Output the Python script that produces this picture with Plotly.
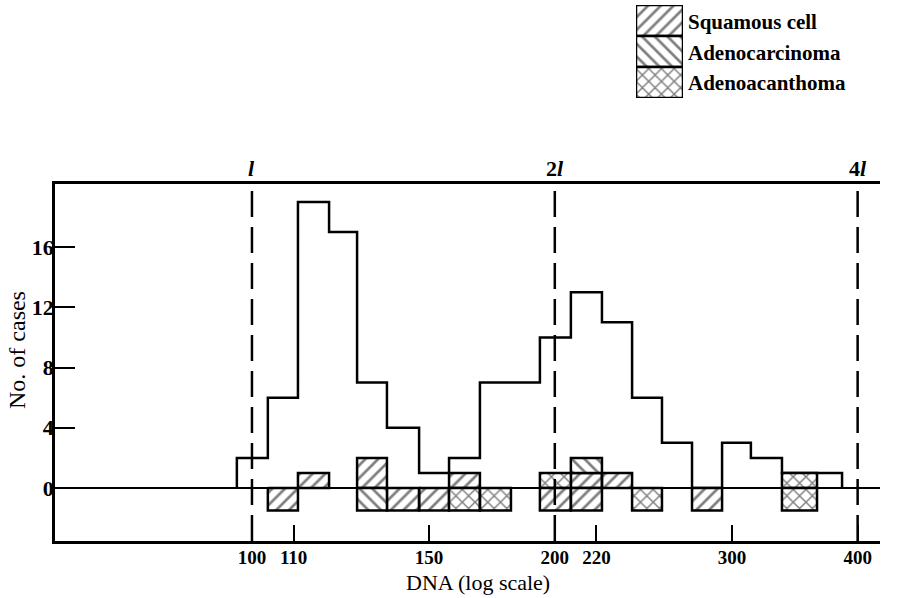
import numpy as np
import plotly.graph_objects as go

# ---------------- data ----------------
bin_edges = [96.6, 103.7, 111.1, 119.3, 127.2, 136.2, 146.6, 157.0, 168.5, 180.9, 193.3,
             207.5, 222.8, 238.7, 255.6, 273.8, 293.3, 313.3, 336.4, 364.5, 386.0]
total_cases = [2, 6, 19, 17, 7, 4, 1, 2, 7, 7, 10, 13, 11, 6, 3, 0, 3, 2, 1, 1]

squamous_above       = [0, 0, 1, 0, 2, 0, 0, 1, 0, 0, 0, 1, 1, 0, 0, 0, 0, 0, 0, 0]
adenocarcinoma_above = [0, 0, 0, 0, 0, 0, 0, 0, 0, 0, 0, 1, 0, 0, 0, 0, 0, 0, 0, 0]
adenoacanthoma_above = [0, 0, 0, 0, 0, 0, 0, 0, 0, 0, 1, 0, 0, 0, 0, 0, 0, 0, 1, 0]

squamous_below       = [0, 1, 0, 0, 0, 1, 1, 0, 0, 0, 1, 1, 0, 0, 0, 1, 0, 0, 0, 0]
adenocarcinoma_below = [0, 0, 0, 0, 1, 0, 0, 0, 0, 0, 0, 0, 0, 0, 0, 0, 0, 0, 0, 0]
adenoacanthoma_below = [0, 0, 0, 0, 0, 0, 0, 1, 1, 0, 0, 0, 0, 1, 0, 0, 0, 0, 1, 0]

series_names = ["Squamous cell", "Adenocarcinoma", "Adenoacanthoma"]
x_tick_values = [100, 110, 150, 200, 220, 300, 400]
y_tick_values = [0, 4, 8, 12, 16]
ploidy_values = [100, 200, 400]
ploidy_labels = ["l", "2l", "4l"]

# ---------------- styling constants ----------------
W, H = 899, 598
BELOW_DEPTH = -1.5
X_RANGE = [1.8042, 2.6243]
Y_RANGE = [-3.52, 20.19]
SERIF = "Liberation Serif"
patterns = {"Squamous cell": "/", "Adenocarcinoma": "\\", "Adenoacanthoma": "x"}


def px(x):
    return x / W


def py(y):
    return 1 - y / H


def pattern(name):
    return dict(shape=patterns[name], size=9, solidity=0.3, fgcolor="black", bgcolor="white")


fig = go.Figure()

# histogram outline
ox = [bin_edges[0]] + bin_edges
oy = [0] + total_cases + [0]
fig.add_trace(go.Scatter(x=ox, y=oy, mode="lines", line=dict(color="black", width=2.5, shape="hv"),
                         showlegend=False, hoverinfo="skip"))


def box_path(flags_list, base_list, sign):
    xs, ys = [], []
    for i, n in enumerate(flags_list):
        if n:
            x0, x1 = bin_edges[i], bin_edges[i + 1]
            if sign > 0:
                y0 = base_list[i]
                y1 = y0 + n
                base_list[i] = y1
            else:
                y0, y1 = 0, BELOW_DEPTH * n
            xs += [x0, x1, x1, x0, x0, None]
            ys += [y0, y0, y1, y1, y0, None]
    return xs, ys


base = [0] * len(total_cases)
above = [squamous_above, adenocarcinoma_above, adenoacanthoma_above]
below = [squamous_below, adenocarcinoma_below, adenoacanthoma_below]
for name, flags in zip(series_names, above):
    xs, ys = box_path(flags, base, 1)
    fig.add_trace(go.Scatter(x=xs, y=ys, mode="lines", fill="toself", fillcolor="white",
                             fillpattern=pattern(name),
                             line=dict(color="black", width=2.5), showlegend=False, hoverinfo="skip"))
for name, flags in zip(series_names, below):
    xs, ys = box_path(flags, None, -1)
    fig.add_trace(go.Scatter(x=xs, y=ys, mode="lines", fill="toself", fillcolor="white",
                             fillpattern=pattern(name),
                             line=dict(color="black", width=2.5), showlegend=False, hoverinfo="skip"))

# dashed ploidy lines
for v in ploidy_values:
    fig.add_trace(go.Scatter(x=[v, v], y=Y_RANGE, mode="lines",
                             line=dict(color="black", width=2.5, dash="26px,10px"),
                             showlegend=False, hoverinfo="skip"))

# ploidy labels above the frame
for v, lab in zip(ploidy_values, ploidy_labels):
    txt = "<b>" + lab[:-1] + "<i>" + lab[-1] + "</i></b>"
    fig.add_annotation(x=np.log10(v), xref="x", y=py(183), yref="paper", yanchor="bottom",
                       xanchor="center", text=txt, showarrow=False,
                       font=dict(family=SERIF, size=22, color="black"))

# legend (drawn on its own small axes)
legend_y = {"Squamous cell": 2, "Adenocarcinoma": 1, "Adenoacanthoma": 0}
for name in series_names:
    y0 = legend_y[name]
    fig.add_trace(go.Scatter(x=[0, 1, 1, 0, 0], y=[y0, y0, y0 + 1, y0 + 1, y0], mode="lines",
                             fill="toself", fillcolor="white", fillpattern=pattern(name),
                             line=dict(color="black", width=2.5), xaxis="x2", yaxis="y2",
                             showlegend=False, hoverinfo="skip"))
legend_label_y = {"Squamous cell": 22, "Adenocarcinoma": 53, "Adenoacanthoma": 83}
for name in series_names:
    fig.add_annotation(x=px(686), y=py(legend_label_y[name]), xref="paper", yref="paper",
                       xanchor="left", yanchor="middle", text="<b>" + name + "</b>", showarrow=False,
                       font=dict(family=SERIF, size=21, color="black"))

# axis titles
fig.add_annotation(x=px(478), y=py(582), xref="paper", yref="paper", text="DNA (log scale)",
                   xanchor="center", yanchor="middle",
                   showarrow=False, font=dict(family=SERIF, size=22, color="black"))
fig.add_annotation(x=px(17), y=py(350), xref="paper", yref="paper", text="No. of cases",
                   xanchor="center", yanchor="middle",
                   textangle=-90, showarrow=False, font=dict(family=SERIF, size=24, color="black"))

fig.update_layout(
    width=W, height=H, margin=dict(l=0, r=0, t=0, b=0),
    paper_bgcolor="white", plot_bgcolor="white", showlegend=False,
    xaxis=dict(type="log", range=X_RANGE, domain=[px(55), px(880)],
               tickvals=x_tick_values, ticktext=[str(v) for v in x_tick_values],
               ticks="inside", ticklen=16, tickwidth=2, tickcolor="black",
               showline=True, linecolor="black", linewidth=2.5, mirror=True,
               showgrid=False, zeroline=False, automargin=False, ticklabelstandoff=-3,
               tickfont=dict(family=SERIF, size=19, color="black", weight="bold")),
    yaxis=dict(range=Y_RANGE, domain=[py(541), py(184)],
               tickvals=y_tick_values, ticks="inside", ticklen=20, tickwidth=2, tickcolor="black",
               showline=True, linecolor="black", linewidth=2.5, mirror=False,
               showgrid=False, zeroline=True, zerolinecolor="black", zerolinewidth=2,
               automargin=False, ticklabelstandoff=-6,
               tickfont=dict(family=SERIF, size=22, color="black", weight="bold")),
    xaxis2=dict(range=[0, 1], domain=[px(636), px(683)], visible=False, anchor="y2"),
    yaxis2=dict(range=[0, 3], domain=[py(98), py(5)], visible=False, anchor="x2"),
)

fig.write_html("out.html")
